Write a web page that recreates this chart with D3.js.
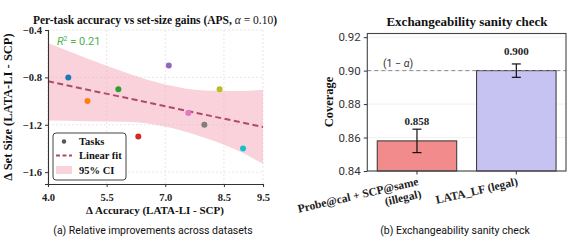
<!DOCTYPE html>
<html>
<head>
<meta charset="utf-8">
<script src="https://cdn.jsdelivr.net/npm/d3@7"></script>
<style>
  body { margin: 0; background: #fff; }
  svg { display: block; }
  .serif { font-family: "Liberation Serif", "DejaVu Serif", serif; font-weight: bold; }
  .sans { font-family: Roboto, "Noto Sans", sans-serif; }
</style>
</head>
<body>
<svg id="chart" width="571" height="243"></svg>
<script>
// ---- data: left panel (per-task gains) ----
var taskX = [4.52, 5.01, 5.80, 6.31, 7.09, 7.59, 8.00, 8.39, 8.99];
var taskY = [-0.80, -1.00, -0.90, -1.30, -0.70, -1.10, -1.20, -0.90, -1.40];
var taskColors = ["#1f77b4", "#ff7f0e", "#2ca02c", "#d62728", "#9467bd", "#e377c2", "#7f7f7f", "#bcbd22", "#17becf"];
// 95% CI band
var ciX = [4.0, 5.0, 6.0, 7.0, 8.0, 9.0, 9.5];
var ciUpper = [-0.51, -0.64, -0.76, -0.86, -0.91, -0.915, -0.905];
var ciLower = [-1.165, -1.17, -1.175, -1.215, -1.31, -1.44, -1.53];
var xTicksL = [4.0, 5.5, 7.0, 8.5, 9.5];
var yTicksL = [-0.4, -0.8, -1.2, -1.6];

// ---- data: right panel (coverage) ----
var methods = [["Probe@cal + SCP@same", "(illegal)"], ["LATA_LF (legal)"]];
var coverage = [0.858, 0.900];
var coverageErr = [0.007, 0.004];
var barColors = ["#f28b8b", "#c6c2f2"];
var yTicksR = [0.84, 0.86, 0.88, 0.90, 0.92];
var target = 0.90;

var svg = d3.select("#chart");
var fmtMinus = function(v) { return d3.format(".1f")(v).replace("-", "\u2212"); };

// ================= left panel =================
var xL = d3.scaleLinear().domain([4, 9.5]).range([48, 263]);
var yL = d3.scaleLinear().domain([-1.7, -0.4]).range([184, 30]);
var left = svg.append("g");

// grid
left.selectAll(".gx").data(xTicksL).enter().append("line")
    .attr("x1", d => xL(d)).attr("x2", d => xL(d))
    .attr("y1", yL.range()[1]).attr("y2", yL.range()[0])
    .attr("stroke", "#dcdcdc").attr("stroke-width", 0.7).attr("stroke-dasharray", "2,2");
left.selectAll(".gy").data(yTicksL).enter().append("line")
    .attr("x1", xL.range()[0]).attr("x2", xL.range()[1])
    .attr("y1", d => yL(d)).attr("y2", d => yL(d))
    .attr("stroke", "#dcdcdc").attr("stroke-width", 0.7).attr("stroke-dasharray", "2,2");

// CI band
var band = ciX.map(function(x, i) { return {x: x, lo: ciLower[i], hi: ciUpper[i]}; });
left.append("path")
    .datum(band)
    .attr("d", d3.area().curve(d3.curveMonotoneX)
        .x(d => xL(d.x)).y0(d => yL(d.lo)).y1(d => yL(d.hi)))
    .attr("fill", "#f2a0b4").attr("fill-opacity", 0.48);

// linear fit (least squares on the task points)
var mx = d3.mean(taskX), my = d3.mean(taskY);
var sxy = d3.sum(taskX, (x, i) => (x - mx) * (taskY[i] - my));
var sxx = d3.sum(taskX, x => (x - mx) * (x - mx));
var syy = d3.sum(taskY, y => (y - my) * (y - my));
var slope = sxy / sxx, icpt = my - slope * mx;
var r2 = sxy * sxy / (sxx * syy);
left.append("line")
    .attr("x1", xL(4)).attr("y1", yL(icpt + slope * 4))
    .attr("x2", xL(9.5)).attr("y2", yL(icpt + slope * 9.5))
    .attr("stroke", "#b04a6c").attr("stroke-width", 2).attr("stroke-dasharray", "6,3.5");

// points
left.selectAll(".pt").data(taskX).enter().append("circle")
    .attr("cx", d => xL(d)).attr("cy", (d, i) => yL(taskY[i]))
    .attr("r", 3).attr("fill", (d, i) => taskColors[i]);

// axes
var axL = left.append("g").attr("transform", "translate(0,184)")
    .call(d3.axisBottom(xL).tickValues(xTicksL).tickFormat(d3.format(".1f")).tickSize(3));
var ayL = left.append("g").attr("transform", "translate(48,0)")
    .call(d3.axisLeft(yL).tickValues(yTicksL).tickFormat(fmtMinus).tickSize(3));
[axL, ayL].forEach(function(a) {
    a.select(".domain").attr("stroke", "#333").attr("stroke-width", 1.1);
    a.selectAll(".tick line").attr("stroke", "#333");
    a.selectAll("text").attr("class", "serif").attr("font-size", 10.5).attr("fill", "#222");
});
axL.selectAll("text").attr("dy", "1.05em");

// R^2 label
var r2t = left.append("text").attr("class", "sans").attr("x", 57).attr("y", 45)
    .attr("font-size", 11).attr("fill", "#4caf50");
r2t.append("tspan").attr("font-style", "italic").text("R");
r2t.append("tspan").attr("font-size", 7).attr("dy", -4).text("2");
r2t.append("tspan").attr("dy", 4).text(" = " + d3.format(".2f")(r2));

// titles / labels
var t1 = left.append("text").attr("class", "serif").attr("x", 155).attr("y", 24)
    .attr("text-anchor", "middle").attr("font-size", 11.5).attr("fill", "#111");
t1.append("tspan").text("Per-task accuracy vs set-size gains (APS, ");
t1.append("tspan").attr("font-style", "italic").attr("font-weight", "normal").text("\u03b1");
t1.append("tspan").attr("font-weight", "normal").text(" = 0.10");
t1.append("tspan").text(")");

left.append("text").attr("class", "serif").attr("x", 155).attr("y", 214)
    .attr("text-anchor", "middle").attr("font-size", 11).attr("fill", "#111")
    .text("\u0394 Accuracy (LATA-LI - SCP)");
left.append("text").attr("class", "serif")
    .attr("transform", "translate(12,107) rotate(-90)")
    .attr("text-anchor", "middle").attr("font-size", 12.5).attr("fill", "#111")
    .text("\u0394 Set Size (LATA-LI - SCP)");
left.append("text").attr("class", "sans").attr("x", 153).attr("y", 234)
    .attr("text-anchor", "middle").attr("font-size", 10.5).attr("fill", "#111")
    .text("(a) Relative improvements across datasets");

// legend
var lg = left.append("g").attr("transform", "translate(53,133)");
lg.append("rect").attr("width", 73).attr("height", 47).attr("rx", 3)
    .attr("fill", "#fff").attr("fill-opacity", 0.9).attr("stroke", "#444").attr("stroke-width", 1);
lg.append("circle").attr("cx", 11).attr("cy", 8.5).attr("r", 2.2).attr("fill", "#555");
lg.append("line").attr("x1", 3).attr("x2", 19).attr("y1", 22.5).attr("y2", 22.5)
    .attr("stroke", "#b04a6c").attr("stroke-width", 2).attr("stroke-dasharray", "4,2.5");
lg.append("rect").attr("x", 3).attr("y", 33).attr("width", 16).attr("height", 8)
    .attr("fill", "#f2a0b4").attr("fill-opacity", 0.48);
lg.selectAll(".lt").data(["Tasks", "Linear fit", "95% CI"]).enter().append("text")
    .attr("class", "serif").attr("x", 26).attr("y", (d, i) => 12 + i * 14.3)
    .attr("font-size", 10.5).attr("fill", "#111").text(d => d);

// ================= right panel =================
var xR = d3.scaleLinear().domain([-0.5, 1.5]).range([367.3, 566]);
var yR = d3.scaleLinear().domain([0.84, 0.9222]).range([171, 33.5]);
var right = svg.append("g");

right.selectAll(".gy").data(yTicksR).enter().append("line")
    .attr("x1", xR.range()[0]).attr("x2", xR.range()[1])
    .attr("y1", d => yR(d)).attr("y2", d => yR(d))
    .attr("stroke", "#ececec").attr("stroke-width", 0.8);

// bars
right.selectAll(".bar").data(coverage).enter().append("rect")
    .attr("x", (d, i) => xR(i - 0.4)).attr("width", xR(0.4) - xR(-0.4))
    .attr("y", d => yR(d)).attr("height", d => yR(0.84) - yR(d))
    .attr("fill", (d, i) => barColors[i]).attr("stroke", "#333").attr("stroke-width", 1);

// target line
right.append("line")
    .attr("x1", xR.range()[0]).attr("x2", xR.range()[1])
    .attr("y1", yR(target)).attr("y2", yR(target))
    .attr("stroke", "#888").attr("stroke-width", 1).attr("stroke-dasharray", "4,3");
var tl = right.append("text").attr("class", "sans").attr("x", 383).attr("y", 66.5)
    .attr("font-size", 10.5).attr("fill", "#333");
tl.append("tspan").text("(1 \u2212 ");
tl.append("tspan").attr("font-style", "italic").text("\u03b1");
tl.append("tspan").text(")");

// error bars
coverage.forEach(function(v, i) {
    var cx = xR(i), e = coverageErr[i];
    var g = right.append("g").attr("stroke", "#111").attr("stroke-width", 1.2);
    g.append("line").attr("x1", cx).attr("x2", cx).attr("y1", yR(v - e)).attr("y2", yR(v + e));
    g.append("line").attr("x1", cx - 4.5).attr("x2", cx + 4.5).attr("y1", yR(v - e)).attr("y2", yR(v - e));
    g.append("line").attr("x1", cx - 4.5).attr("x2", cx + 4.5).attr("y1", yR(v + e)).attr("y2", yR(v + e));
    right.append("text").attr("class", "serif").attr("x", cx).attr("y", yR(v) - 16)
        .attr("text-anchor", "middle").attr("font-size", 11).attr("fill", "#222")
        .text(d3.format(".3f")(v));
});

// axes + frame
var ayR = right.append("g").attr("transform", "translate(367.3,0)")
    .call(d3.axisLeft(yR).tickValues(yTicksR).tickFormat(d3.format(".2f")).tickSize(3.5));
ayR.select(".domain").remove();
ayR.selectAll(".tick line").attr("stroke", "#333");
ayR.selectAll("text").attr("class", "sans").attr("font-size", 11.5).attr("fill", "#333");
right.append("rect").attr("x", 367.3).attr("y", 33.5).attr("width", 566 - 367.3).attr("height", 171 - 33.5)
    .attr("fill", "none").attr("stroke", "#444").attr("stroke-width", 1.1);
methods.forEach(function(lines, i) {
    var cx = xR(i);
    right.append("line").attr("x1", cx).attr("x2", cx).attr("y1", 171).attr("y2", 174.5).attr("stroke", "#333");
    var t = right.append("text").attr("class", "serif")
        .attr("transform", "translate(" + cx + ",176) rotate(-13)")
        .attr("text-anchor", "end").attr("font-size", 11.5).attr("fill", "#222");
    lines.forEach(function(s, j) {
        t.append("tspan").attr("x", 0).attr("dy", j === 0 ? "0.8em" : "1.1em").text(s);
    });
});

right.append("text").attr("class", "serif").attr("x", 467).attr("y", 26)
    .attr("text-anchor", "middle").attr("font-size", 13).attr("fill", "#111")
    .text("Exchangeability sanity check");
right.append("text").attr("class", "serif")
    .attr("transform", "translate(333,102) rotate(-90)")
    .attr("text-anchor", "middle").attr("font-size", 12.5).attr("fill", "#111")
    .text("Coverage");
right.append("text").attr("class", "sans").attr("x", 455).attr("y", 234)
    .attr("text-anchor", "middle").attr("font-size", 10.5).attr("fill", "#111")
    .text("(b) Exchangeability sanity check");
</script>
</body>
</html>
